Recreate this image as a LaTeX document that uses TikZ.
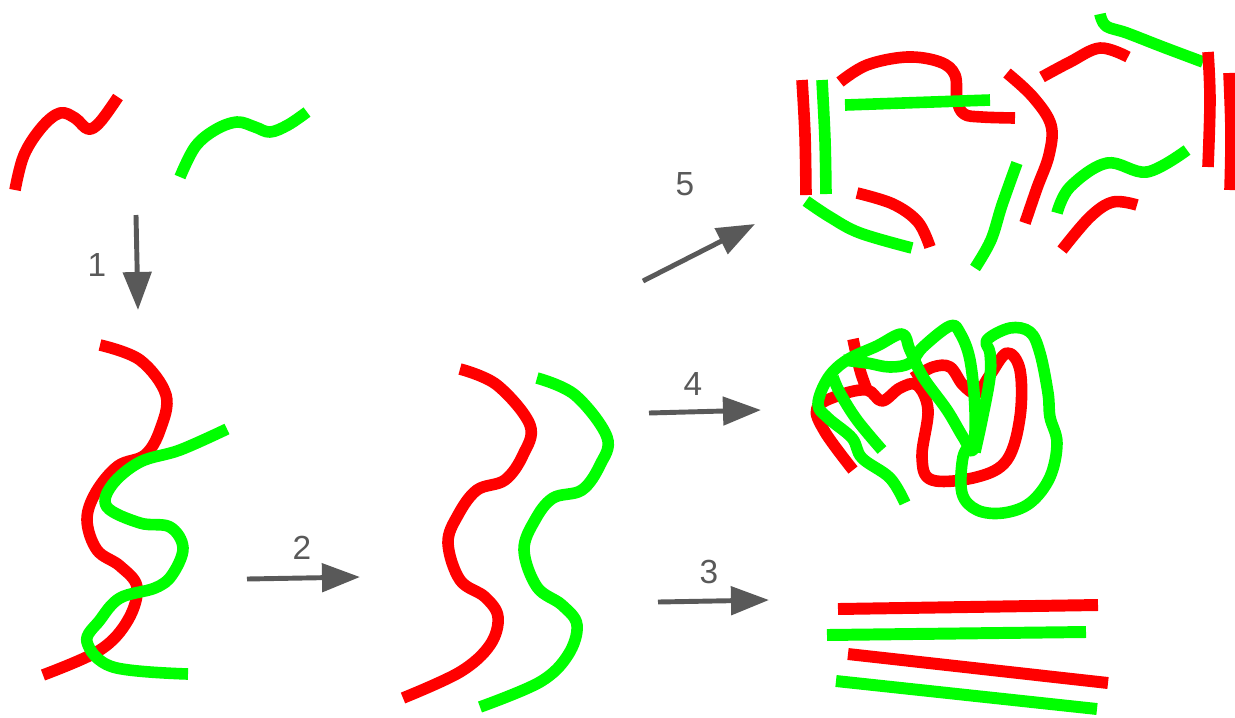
\documentclass[tikz,border=0pt]{standalone}
\usepackage{fontspec}
\setmainfont{Liberation Sans}
\usepackage{xcolor}
\usepackage{tikz}
\usetikzlibrary{arrows.meta}

\definecolor{strandred}{HTML}{FF0000}
\definecolor{strandgreen}{HTML}{00FF00}
\definecolor{arrowgray}{HTML}{595959}

\begin{document}
\begin{tikzpicture}[x=0.01cm, y=-0.01cm,
    redline/.style={draw=strandred, line width=3.3pt, line join=round},
    greenline/.style={draw=strandgreen, line width=3.3pt, line join=round},
    stepline/.style={draw=arrowgray, line width=1.4pt, -{Triangle[length=3.8mm, width=2.8mm]}},
    steplabel/.style={text=arrowgray, font=\fontsize{9.5}{11}\selectfont, inner sep=0pt}]
    \path[use as bounding box] (0,0) rectangle (1235,717);

    % Two separate strands
    \draw[redline] plot[smooth, tension=0.6] coordinates {(15,190) (24,155) (42,127) (60,113) (75,118) (88,129) (100,122) (118,97)};
    \draw[greenline] plot[smooth, tension=0.6] coordinates {(180,177) (195,147) (215,130) (237,122) (255,127) (270,132) (288,125) (307,112)};

    % Strands crossing each other
    \draw[redline] plot[smooth, tension=0.6] coordinates {(100,345) (140,360) (166,395) (160,430) (145,455) (118,466) (96,492) (87,520) (97,550) (120,566) (137,587) (128,620) (100,650) (43,675)};
    \draw[greenline] plot[smooth, tension=0.6] coordinates {(227,429) (180,450) (140,462) (112,485) (107,507) (140,523) (170,527) (183,548) (172,575) (155,588) (120,598) (100,620) (87,642) (113,667) (188,674)};

    % Strands side by side
    \draw[redline] plot[smooth, tension=0.6] coordinates {(460,369) (497,385) (530,425) (523,455) (505,480) (477,490) (458,515) (448,543) (460,580) (485,597) (498,617) (490,645) (460,672) (403,698)};
    \draw[greenline] plot[smooth, tension=0.6] coordinates {(537,378) (575,395) (607,437) (600,465) (582,490) (553,498) (535,520) (524,550) (537,587) (562,605) (577,625) (568,655) (540,682) (480,707)};

    % Straightened strands
    \draw[redline, line width=3.4pt] (838,609) -- (1098,605);
    \draw[greenline, line width=3.4pt] (827,635) -- (1086,632);
    \draw[redline, line width=3.4pt] (848,654) -- (1108,683);
    \draw[greenline, line width=3.4pt] (836,681) -- (1097,709);

    % Tangled ball
    \draw[redline] plot[smooth, tension=0.6] coordinates {(853,470) (825,432) (817,408) (840,395) (867,390) (882,401) (900,388) (917,385) (928,410) (922,457) (932,480) (977,477) (1007,460) (1020,417) (1020,370) (1007,353) (990,375) (977,393) (963,385) (950,367) (933,367) (913,378)};
    \draw[redline] plot[smooth, tension=0.6] coordinates {(853,339) (860,370) (867,390)};
    \draw[greenline] plot[smooth, tension=0.6] coordinates {(905,503) (890,478) (862,458) (852,438) (828,418) (818,404) (828,378) (847,360) (877,346) (902,334) (910,350) (923,377) (947,410) (963,437) (973,450) (975,410) (970,360) (960,333) (950,326) (923,347) (910,363) (890,367) (867,363) (843,360)};
    \draw[greenline] plot[smooth, tension=0.6] coordinates {(882,450) (857,420) (840,393) (833,377)};
    \draw[greenline] plot[smooth, tension=0.6] coordinates {(975,452) (982,420) (990,377) (990,353) (987,340) (1010,328) (1030,332) (1040,353) (1048,393) (1050,417) (1057,443) (1050,477) (1030,503) (1003,513) (977,510) (962,493) (963,457) (972,443)};

    % Broken pieces
    \draw[redline] plot[smooth, tension=0.6] coordinates {(802,80) (805,135) (806,195)};
    \draw[greenline] plot[smooth, tension=0.6] coordinates {(822,80) (825,140) (826,194)};
    \draw[redline] plot[smooth, tension=0.6] coordinates {(840,82) (867,65) (907,57) (940,62) (955,75) (957,100) (964,114) (982,117) (1015,118)};
    \draw[greenline] (845,105) -- (990,100);
    \draw[redline] plot[smooth, tension=0.6] coordinates {(1007,73) (1033,97) (1051,125) (1049,155) (1037,188) (1025,223)};
    \draw[redline] plot[smooth, tension=0.6] coordinates {(1042,77) (1070,62) (1100,48) (1128,57)};
    \draw[greenline] plot[smooth, tension=0.6] coordinates {(1100,14) (1106,26) (1127,33) (1163,47) (1203,62)};
    \draw[redline] plot[smooth, tension=0.6] coordinates {(1208,52) (1210,100) (1208,167)};
    \draw[redline] plot[smooth, tension=0.6] coordinates {(1229,73) (1231,133) (1230,190)};
    \draw[greenline] plot[smooth, tension=0.6] coordinates {(806,201) (830,217) (860,233) (912,248)};
    \draw[redline] plot[smooth, tension=0.6] coordinates {(857,193) (893,204) (918,222) (930,247)};
    \draw[greenline] plot[smooth, tension=0.6] coordinates {(1017,163) (1002,205) (991,240) (975,268)};
    \draw[greenline] plot[smooth, tension=0.6] coordinates {(1057,213) (1070,187) (1107,163) (1147,172) (1187,150)};
    \draw[redline] plot[smooth, tension=0.6] coordinates {(1062,250) (1090,217) (1113,202) (1137,205)};

    % Step arrows
    \coordinate (s1) at (136,215);
    \coordinate (e1) at (138,310);
    \coordinate (s2) at (247,579);
    \coordinate (e2) at (360,577);
    \coordinate (s3) at (658,602);
    \coordinate (e3) at (769,600);
    \coordinate (s4) at (649,413);
    \coordinate (e4) at (761,410);
    \coordinate (s5) at (643,281);
    \coordinate (e5) at (755,224);

    \draw[stepline] (s1) -- (e1);
    \draw[stepline] (s2) -- (e2);
    \draw[stepline] (s3) -- (e3);
    \draw[stepline] (s4) -- (e4);
    \draw[stepline] (s5) -- (e5);

    \node[steplabel] (l1) at (97,265) {1};
    \node[steplabel] (l2) at (302,548) {2};
    \node[steplabel] (l3) at (709,572) {3};
    \node[steplabel] (l4) at (693,384) {4};
    \node[steplabel] (l5) at (685,184) {5};
\end{tikzpicture}
\end{document}
